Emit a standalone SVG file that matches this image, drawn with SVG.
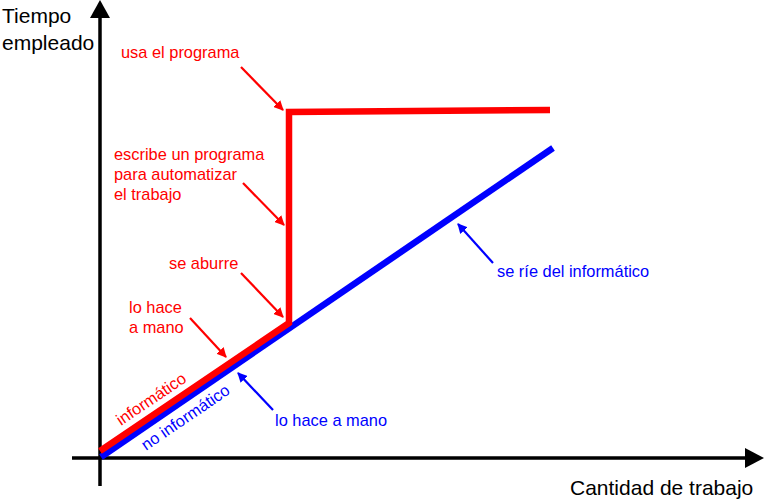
<svg xmlns="http://www.w3.org/2000/svg" width="764" height="500" viewBox="0 0 764 500">
<defs>
<style>
text{font-family:"Liberation Sans",Arial,sans-serif}
.ax{font-size:21px;fill:#000}
.r{font-size:16.4px;fill:#ff0000}
.b{font-size:16.4px;fill:#0000ff}
.ra{stroke:#ff0000;stroke-width:2.2;fill:none;marker-end:url(#mr)}
.ba{stroke:#0000ff;stroke-width:2.2;fill:none;marker-end:url(#mb)}
</style>
<marker id="mr" viewBox="0 0 10 10" refX="9" refY="5" markerWidth="4.5" markerHeight="4.5" orient="auto" markerUnits="strokeWidth"><path d="M0,0 L10,5 L0,10 z" fill="#ff0000"/></marker>
<marker id="mb" viewBox="0 0 10 10" refX="9" refY="5" markerWidth="4.5" markerHeight="4.5" orient="auto" markerUnits="strokeWidth"><path d="M0,0 L10,5 L0,10 z" fill="#0000ff"/></marker>
</defs>
<rect width="764" height="500" fill="#fff"/>
<g id="axes">
<line x1="100" y1="486" x2="100" y2="16" stroke="#000" stroke-width="3.5"/>
<path d="M100,0 L110,18 L90,18 z" fill="#000"/>
<line x1="72" y1="458" x2="746" y2="458" stroke="#000" stroke-width="3.5"/>
<path d="M764,458 L745,448 L745,468 z" fill="#000"/>
<text class="ax" x="2" y="23">Tiempo</text>
<text class="ax" x="2" y="50">empleado</text>
<text class="ax" x="570" y="495">Cantidad de trabajo</text>
</g>
<g id="no-informatico">
<line x1="101" y1="457" x2="553" y2="148" stroke="#0000ff" stroke-width="6.5"/>
<text class="b" transform="translate(146,451) rotate(-34.3)">no informático</text>
</g>
<g id="informatico">
<polyline points="100,451 289,323 289,112 550,110" stroke="#ff0000" stroke-width="6.5" fill="none" stroke-linejoin="miter"/>
<text class="r" transform="translate(121,426) rotate(-34)">informático</text>
</g>
<g id="labels">
<text class="r" x="121" y="58">usa el programa</text>
<text class="r" x="114" y="160">escribe un programa</text>
<text class="r" x="114" y="180">para automatizar</text>
<text class="r" x="114" y="200">el trabajo</text>
<text class="r" x="169" y="269">se aburre</text>
<text class="r" x="129" y="313">lo hace</text>
<text class="r" x="129" y="333">a mano</text>
<text class="b" x="275" y="426">lo hace a mano</text>
<text class="b" x="497" y="277">se ríe del informático</text>
</g>
<g id="connectors">
<line class="ra" x1="241" y1="67" x2="283" y2="110"/>
<line class="ra" x1="243" y1="183" x2="284" y2="225"/>
<line class="ra" x1="241" y1="273" x2="283" y2="317"/>
<line class="ra" x1="190" y1="318" x2="226" y2="357"/>
<line class="ba" x1="273" y1="410" x2="238" y2="373"/>
<line class="ba" x1="493" y1="263" x2="458" y2="224"/>
</g>
</svg>
